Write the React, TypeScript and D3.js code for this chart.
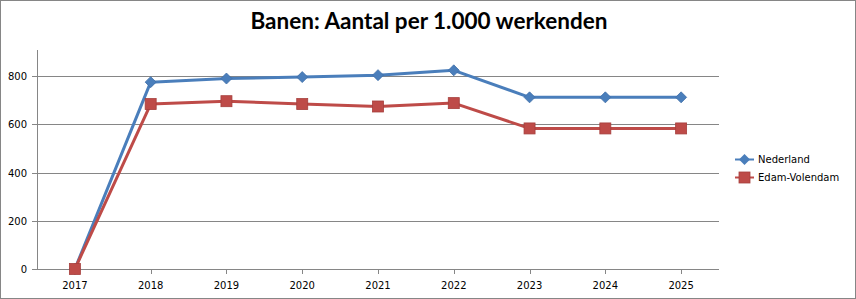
import React from "react";
import * as d3 from "d3";

const title = "Banen: Aantal per 1.000 werkenden";
const years = ["2017", "2018", "2019", "2020", "2021", "2022", "2023", "2024", "2025"];
const nederland = [0, 775, 790, 796, 804, 824, 712, 712, 712];
const edamVolendam = [0, 684, 696, 684, 674, 688, 583, 583, 583];
const yTicks = [0, 200, 400, 600, 800];

const W = 856;
const H = 299;
const left = 37;
const right = 719;
const top = 52;
const bottom = 269;

export default function App() {
  const x = d3.scaleBand<string>().domain(years).range([left, right]);
  const y = d3.scaleLinear().domain([0, 900]).range([bottom, top]);
  const cx = (d: string) => (x(d) as number) + x.bandwidth() / 2;
  const line = d3
    .line<number>()
    .x((_, i) => cx(years[i]))
    .y((v) => y(v));

  const blue = "#4A7EBB";
  const red = "#BE4B48";
  const diamond = (px: number, py: number, r: number) =>
    `M${px},${py - r}L${px + r},${py}L${px},${py + r}L${px - r},${py}Z`;

  return (
    <div style={{ position: "fixed", left: 0, top: 0 }}>
      <svg width={W} height={H} style={{ display: "block", background: "#fff" }}>
        <rect x={0.5} y={0.5} width={W - 1} height={H - 1} fill="#fff" stroke="#868686" />
        <text
          x={W / 2 + 1}
          y={29}
          textAnchor="middle"
          fontFamily="Lato, 'Open Sans', sans-serif"
          fontWeight="bold"
          fontSize={22.5}
          fill="#000"
        >
          {title}
        </text>
        {yTicks.map((t) => (
          <g key={t}>
            {t > 0 && (
              <line x1={left} x2={right} y1={Math.round(y(t)) + 0.5} y2={Math.round(y(t)) + 0.5} stroke="#868686" />
            )}
            <line x1={left - 5} x2={left} y1={Math.round(y(t)) + 0.5} y2={Math.round(y(t)) + 0.5} stroke="#868686" />
            <text
              x={left - 10}
              y={y(t) + 4}
              textAnchor="end"
              fontFamily="'DejaVu Sans', sans-serif"
              fontSize={10}
              fill="#000"
            >
              {t}
            </text>
          </g>
        ))}
        <line x1={left + 0.5} x2={left + 0.5} y1={top - 2} y2={bottom} stroke="#868686" />
        <line x1={left} x2={right} y1={bottom + 0.5} y2={bottom + 0.5} stroke="#868686" />
        {years.map((yr) => (
          <g key={yr}>
            <line x1={Math.round(cx(yr)) + 0.5} x2={Math.round(cx(yr)) + 0.5} y1={bottom} y2={bottom + 5} stroke="#868686" />
            <text
              x={cx(yr)}
              y={289}
              textAnchor="middle"
              fontFamily="'DejaVu Sans', sans-serif"
              fontSize={10}
              fill="#000"
            >
              {yr}
            </text>
          </g>
        ))}
        <path d={line(nederland) || ""} fill="none" stroke={blue} strokeWidth={3} strokeLinejoin="round" />
        <path d={line(edamVolendam) || ""} fill="none" stroke={red} strokeWidth={3} strokeLinejoin="round" />
        {nederland.map((v, i) => (
          <path key={"n" + i} d={diamond(cx(years[i]), y(v), 5.5)} fill={blue} stroke="#3F6FA8" strokeWidth={0.8} />
        ))}
        {edamVolendam.map((v, i) => (
          <rect
            key={"e" + i}
            x={cx(years[i]) - 5.5}
            y={y(v) - 5.5}
            width={11}
            height={11}
            fill={red}
            stroke="#A63F3C"
            strokeWidth={0.8}
          />
        ))}
        <g>
          <line x1={735} x2={754} y1={159.5} y2={159.5} stroke={blue} strokeWidth={2} />
          <path d={diamond(744.5, 159.5, 5.5)} fill={blue} />
          <text x={758} y={163} fontFamily="'DejaVu Sans', sans-serif" fontSize={10} fill="#000">
            Nederland
          </text>
          <line x1={735} x2={754} y1={177.5} y2={177.5} stroke={red} strokeWidth={2} />
          <rect x={739} y={172} width={11} height={11} fill={red} stroke="#A63F3C" strokeWidth={0.8} />
          <text x={758} y={181} fontFamily="'DejaVu Sans', sans-serif" fontSize={10} fill="#000">
            Edam-Volendam
          </text>
        </g>
      </svg>
    </div>
  );
}
